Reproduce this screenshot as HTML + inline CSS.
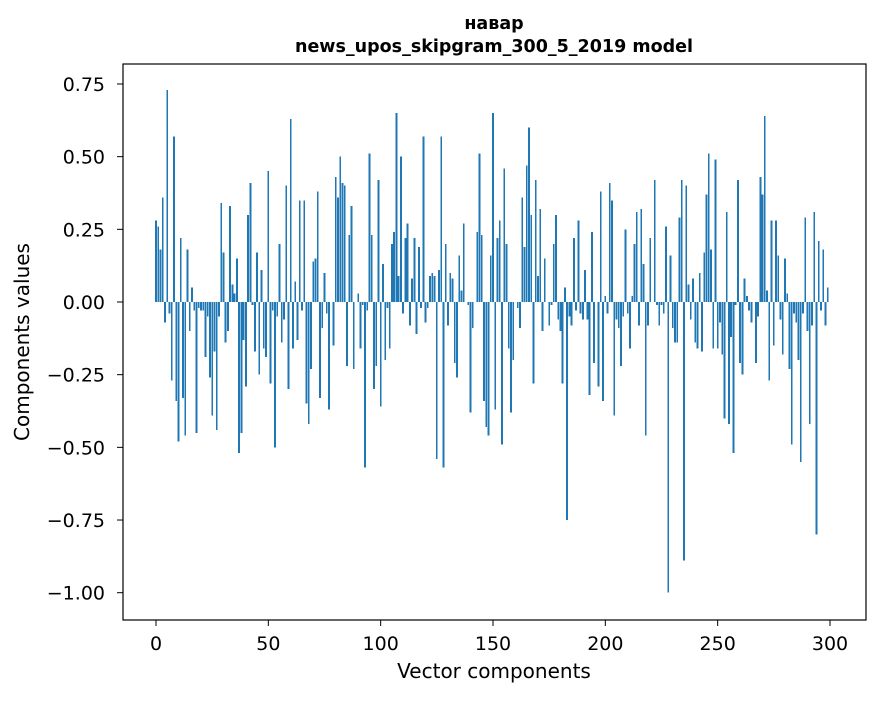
<!DOCTYPE html>
<html><head><meta charset="utf-8"><style>
body{margin:0;background:#fff}
svg text{font-family:"DejaVu Sans","Liberation Sans",sans-serif;fill:#000}
</style></head><body>
<svg id="chart" width="880" height="696" xmlns="http://www.w3.org/2000/svg">
<rect x="0" y="0" width="880" height="696" fill="#fff"/>
<text x="494" y="29" text-anchor="middle" font-size="17.5" font-weight="bold">навар</text>
<text x="494" y="52" text-anchor="middle" font-size="17.5" font-weight="bold">news_upos_skipgram_300_5_2019 model</text>
<text transform="translate(29,342) rotate(-90)" text-anchor="middle" font-size="20">Components values</text>
<text x="494" y="678" text-anchor="middle" font-size="20">Vector components</text>
<g id="bars" shape-rendering="crispEdges"></g>
<g id="axes"></g>
<rect x="123" y="64" width="743" height="556" fill="none" stroke="#000" stroke-width="1.2"/>
</svg>
<script>
const values = [0.28,0.26,0.18,0.36,-0.07,0.73,-0.04,-0.27,0.57,-0.34,-0.48,0.22,-0.33,-0.46,0.18,-0.10,0.05,-0.03,-0.45,-0.02,-0.03,-0.03,-0.19,-0.05,-0.26,-0.39,-0.17,-0.44,-0.05,0.34,0.17,-0.14,-0.10,0.33,0.06,0.03,0.15,-0.52,-0.45,-0.13,-0.29,0.30,0.41,-0.01,-0.17,0.17,-0.25,0.11,-0.16,-0.19,0.45,-0.28,-0.03,-0.50,-0.05,0.20,-0.14,-0.06,0.40,-0.30,0.63,-0.16,0.07,-0.13,0.35,-0.03,0.35,-0.35,-0.42,-0.23,0.14,0.15,0.38,-0.33,-0.09,0.10,-0.04,-0.37,0.00,-0.15,0.43,0.36,0.50,0.41,0.40,-0.22,0.23,0.33,-0.23,0.00,0.03,-0.16,-0.01,-0.57,-0.03,0.51,0.23,-0.30,-0.22,0.42,-0.36,0.13,-0.20,-0.02,-0.16,0.20,0.24,0.65,0.09,0.50,-0.04,0.22,0.27,-0.08,0.08,0.22,-0.11,0.19,-0.02,0.57,-0.07,-0.02,0.09,0.10,0.09,-0.54,0.11,0.57,-0.57,0.20,-0.08,0.10,0.08,-0.21,-0.26,0.16,0.04,0.27,0.00,-0.01,-0.38,-0.09,0.00,0.24,0.51,0.23,-0.34,-0.43,-0.46,0.16,0.65,-0.37,0.22,0.28,-0.49,0.46,0.20,-0.16,-0.38,-0.20,0.00,-0.02,-0.09,0.36,0.19,0.47,0.60,0.30,-0.28,0.42,0.09,0.32,-0.10,0.15,0.00,-0.08,-0.01,0.20,0.30,-0.06,-0.10,-0.28,0.05,-0.75,-0.05,-0.08,0.22,-0.03,0.28,-0.04,-0.06,0.11,-0.06,-0.32,0.24,-0.21,0.00,-0.29,0.38,-0.34,0.02,-0.04,0.41,0.35,-0.39,-0.06,-0.09,-0.22,-0.05,0.25,-0.04,-0.16,0.02,0.20,0.31,-0.08,0.32,0.13,-0.46,-0.08,0.22,0.00,0.42,-0.01,-0.08,-0.01,-0.04,0.26,-1.00,0.16,-0.09,-0.14,-0.14,0.29,0.42,-0.89,0.40,0.06,-0.06,0.08,-0.14,-0.16,0.10,-0.17,0.17,0.37,0.51,0.18,-0.16,0.49,-0.16,-0.07,-0.18,-0.40,0.31,-0.42,-0.12,-0.52,-0.01,0.42,-0.21,-0.25,0.08,0.02,-0.03,-0.07,0.00,-0.21,-0.05,0.43,0.37,0.64,0.04,-0.27,0.28,-0.15,0.28,0.16,-0.06,-0.18,0.15,0.03,-0.23,-0.49,-0.04,-0.07,-0.20,-0.55,-0.04,0.29,-0.10,-0.42,-0.08,0.31,-0.80,0.21,-0.03,0.18,-0.08,0.05];
const xTicks = [0,50,100,150,200,250,300];
const yTicks = [0.75,0.50,0.25,0.00,-0.25,-0.50,-0.75,-1.00];
const yTickLabels = ["0.75","0.50","0.25","0.00","\u22120.25","\u22120.50","\u22120.75","\u22121.00"];

const NS="http://www.w3.org/2000/svg";
function xs(v){return 156+v*(674/300);}
function ys(v){return 302-v*290.7;}
const bars=document.getElementById('bars');
values.forEach((v,i)=>{
  const r=document.createElementNS(NS,'rect');
  const w=0.8*(674/300);
  r.setAttribute('x',xs(i)-w/2);
  r.setAttribute('y',Math.min(ys(v),ys(0)));
  r.setAttribute('width',w);
  r.setAttribute('height',Math.abs(ys(v)-ys(0)));
  r.setAttribute('fill','#1f77b4');
  
  
  bars.appendChild(r);
});
const axes=document.getElementById('axes');
xTicks.forEach(t=>{
  const l=document.createElementNS(NS,'line');
  l.setAttribute('x1',xs(t));l.setAttribute('x2',xs(t));
  l.setAttribute('y1',620);l.setAttribute('y2',626);
  l.setAttribute('stroke','#000');
  
  
  axes.appendChild(l);
  const tx=document.createElementNS(NS,'text');
  tx.setAttribute('x',xs(t));tx.setAttribute('y',650);
  tx.setAttribute('text-anchor','middle');tx.setAttribute('font-size','19');
  tx.textContent=t;
  
  
  axes.appendChild(tx);
});
yTicks.forEach((t,i)=>{
  const l=document.createElementNS(NS,'line');
  l.setAttribute('x1',117);l.setAttribute('x2',123);
  l.setAttribute('y1',ys(t));l.setAttribute('y2',ys(t));
  l.setAttribute('stroke','#000');
  
  
  axes.appendChild(l);
  const tx=document.createElementNS(NS,'text');
  tx.setAttribute('x',105);tx.setAttribute('y',ys(t)+7);
  tx.setAttribute('text-anchor','end');tx.setAttribute('font-size','19');
  tx.textContent=yTickLabels[i];
  
  
  axes.appendChild(tx);
});
</script>
</body></html>
